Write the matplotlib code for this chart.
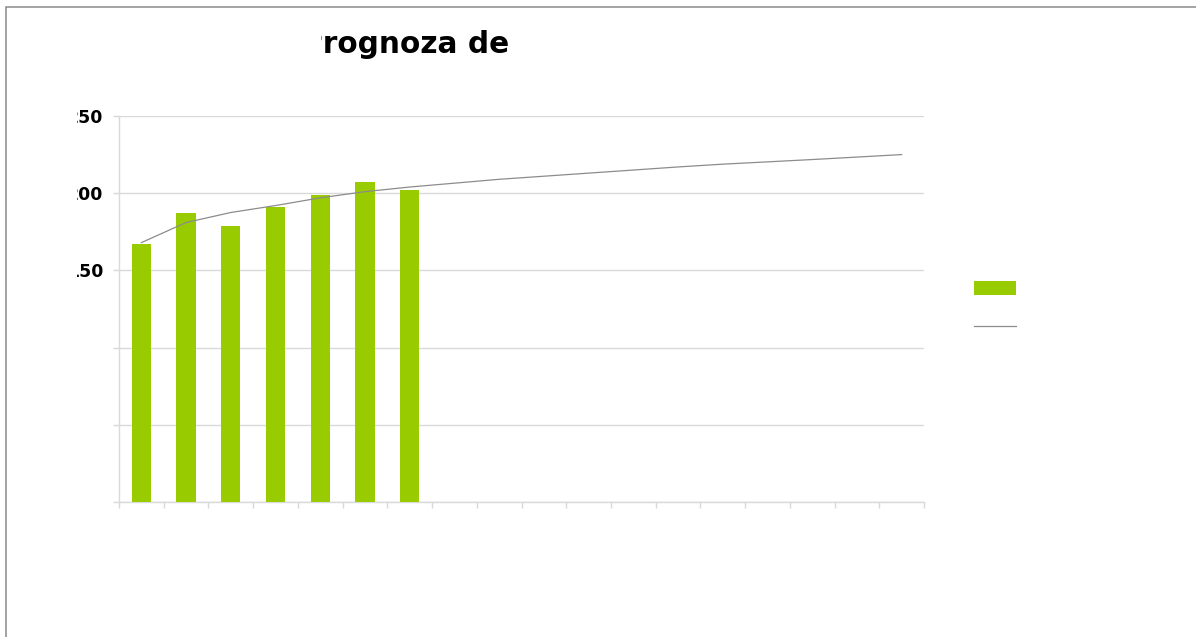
import numpy as np
import matplotlib
matplotlib.use('Agg')
import matplotlib.pyplot as plt
from matplotlib.transforms import Bbox, TransformedBbox
from matplotlib.patches import Rectangle

# data
periods = np.arange(1, 19)
actual = [167, 187, 179, 191, 199, 207, 202]
trend = [168, 181, 187.5, 192, 197, 201, 204, 206.5, 209, 211, 213, 215,
         217, 218.8, 220.3, 221.8, 223.4, 225]
yticks = [0, 50, 100, 150, 200, 250]
ytick_labels = ['', '', '', '150', '200', '250']
title = 'Prognoza de'

W, H = 1196, 637
green = '#99cc00'
gridc = '#d9d9d9'

fig = plt.figure(figsize=(W / 100, H / 100), dpi=100)
ax = fig.add_axes([119 / W, 135 / H, 805 / W, 386 / H])

bars = ax.bar(periods[:len(actual)], actual, width=0.43, color=green, zorder=3)
line, = ax.plot(periods, trend, color='#8c8c8c', lw=0.9, zorder=4)

ax.set_xlim(0.5, 18.5)
ax.set_ylim(0, 250)
ax.set_xticks(np.arange(0.5, 19, 1))
ax.set_xticklabels([])
ax.set_yticks(yticks)
ax.set_yticklabels(ytick_labels)
ax.yaxis.grid(True, color=gridc, lw=1)
ax.set_axisbelow(True)
for s in ['top', 'right']:
    ax.spines[s].set_visible(False)
for s in ['left', 'bottom']:
    ax.spines[s].set_color(gridc)
    ax.spines[s].set_linewidth(1)
ax.tick_params(axis='x', length=4.3, color=gridc, width=1)
ax.tick_params(axis='y', length=4.3, color=gridc, width=1, pad=7.2,
               labelsize=12.5)

# labels are cut off on the left in the original
lab_clip = TransformedBbox(Bbox.from_extents(76.5 / W, 0, 1, 1), fig.transFigure)
for lbl in ax.get_yticklabels():
    lbl.set_fontweight('bold')
    lbl.set_color('black')
    lbl.set_clip_on(True)
    lbl.set_clip_box(lab_clip)

t = fig.text(301 / W, (H - 53.3) / H, title, fontsize=21.3, fontweight='bold',
             ha='left', va='baseline', color='black')
t.set_clip_on(True)
t.set_clip_box(TransformedBbox(Bbox.from_extents(320.5 / W, 0, 1, 1), fig.transFigure))

fig.legend([bars, line], ['', ''], loc='upper left',
           bbox_to_anchor=(974 / W, (H - 281) / H), frameon=False,
           fontsize=10, handlelength=3.0, handleheight=1.2, labelspacing=1.72,
           borderpad=0, borderaxespad=0, handletextpad=0)

# outer frame (only top and left edges show)
fig.patches.append(Rectangle((5.5 / W, -0.1), 1.2, (H - 6.5) / H + 0.1,
                             transform=fig.transFigure, fill=False,
                             edgecolor='#8a8a8a', lw=1.1))

fig.savefig('out.png', dpi=100)
